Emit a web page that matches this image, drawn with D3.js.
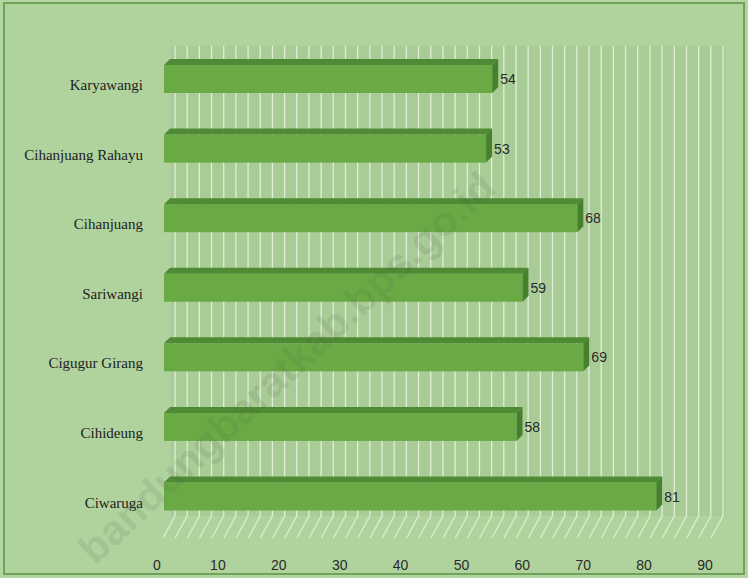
<!DOCTYPE html>
<html><head><meta charset="utf-8">
<script src="https://cdn.jsdelivr.net/npm/d3@7"></script>
<style>
html,body{margin:0;padding:0;background:#b3d5a1;}
svg{display:block;}
</style></head>
<body>
<script>
const categories = ["Karyawangi","Cihanjuang Rahayu","Cihanjuang","Sariwangi","Cigugur Girang","Cihideung","Ciwaruga"];
const values = [54,53,68,59,69,58,81];
const tickValues = [0,10,20,30,40,50,60,70,80,90];
const watermarkText = "bandungbaratkab.bps.go.id";

const W = 748, H = 578;
const svg = d3.select("body").append("svg").attr("width", W).attr("height", H);

// background + border
svg.append("rect").attr("x",0).attr("y",0).attr("width",W).attr("height",H).attr("fill","#b3d5a1");
svg.append("rect").attr("x",4).attr("y",3).attr("width",740).attr("height",571)
  .attr("fill","#b0d39e").attr("stroke","#6fa357").attr("stroke-width",2);

// scales
const xFront = d3.scaleLinear().domain([0,90]).range([164,711]);
const xBack  = d3.scaleLinear().domain([0,90]).range([175,723]);
const xAxisS = d3.scaleLinear().domain([0,90]).range([157,705]);
const y = d3.scalePoint().domain(categories).range([79,496.5]);

const wallTop = 46, wallBottom = 516, floorFront = 538, floorShift = 12;

// back wall
svg.append("rect").attr("x",xBack(0)-4).attr("y",wallTop).attr("width",xBack(90)-xBack(0)+6)
  .attr("height",wallBottom-wallTop).attr("fill","#a9cb95");

const grid = d3.range(0,91,2);
svg.append("g").selectAll("line").data(grid).join("line")
  .attr("x1",d=>xBack(d)).attr("x2",d=>xBack(d))
  .attr("y1",wallTop).attr("y2",wallBottom)
  .attr("stroke","#eef9e6").attr("stroke-opacity",0.8).attr("stroke-width",1.3);
// floor lines
svg.append("g").selectAll("line").data(grid).join("line")
  .attr("x1",d=>xBack(d)).attr("x2",d=>xBack(d)-floorShift)
  .attr("y1",wallBottom).attr("y2",floorFront)
  .attr("stroke","#eef9e6").attr("stroke-opacity",0.7).attr("stroke-width",1.3);

// bars (3D)
const bh = 28, dx = 6, dy = 6;
const bars = svg.append("g").selectAll("g").data(categories).join("g");
bars.append("rect")
  .attr("x",xFront(0)).attr("y",d=>y(d)-bh/2)
  .attr("width",(d,i)=>xFront(values[i])-xFront(0)).attr("height",bh)
  .attr("fill","#69aa45");
bars.append("path")
  .attr("d",(d,i)=>{const x0=xFront(0),x1=xFront(values[i]),t=y(d)-bh/2;
    return `M${x0},${t}L${x0+dx},${t-dy}L${x1+dx},${t-dy}L${x1},${t}Z`;})
  .attr("fill","#4f8b34");
bars.append("path")
  .attr("d",(d,i)=>{const x1=xFront(values[i]),t=y(d)-bh/2,b=y(d)+bh/2;
    return `M${x1},${t}L${x1+dx},${t-dy}L${x1+dx},${b-dy}L${x1},${b}Z`;})
  .attr("fill","#47802d");

// data labels
bars.append("text")
  .attr("x",(d,i)=>xFront(values[i])+dx+2).attr("y",d=>y(d)+5)
  .attr("font-family","'Liberation Sans Narrow','Arial Narrow','Liberation Sans',sans-serif")
  .attr("font-size",14).attr("fill","#2a2a2a")
  .text((d,i)=>values[i]);

// category labels
svg.append("g").selectAll("text").data(categories).join("text")
  .attr("x",143).attr("y",d=>y(d)+11).attr("text-anchor","end")
  .attr("font-family","'Liberation Serif','DejaVu Serif',serif")
  .attr("font-size",15).attr("fill","#222")
  .text(d=>d);

// x axis labels
svg.append("g").selectAll("text").data(tickValues).join("text")
  .attr("x",d=>xAxisS(d)).attr("y",570).attr("text-anchor","middle")
  .attr("font-family","'Liberation Sans Narrow','Arial Narrow','Liberation Sans',sans-serif")
  .attr("font-size",14).attr("fill","#2a2a2a")
  .text(d=>d);

// watermark
svg.append("text")
  .attr("transform","translate(95,566) rotate(-43)")
  .attr("text-anchor","start")
  .attr("font-family","'Liberation Sans',Arial,sans-serif").attr("font-weight","bold")
  .attr("font-size",42).attr("fill","#4a5a48").attr("fill-opacity",0.14)
  .text(watermarkText);
</script>
</body></html>
